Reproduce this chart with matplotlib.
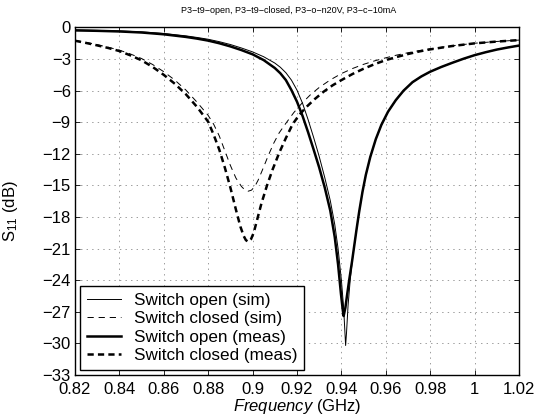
import matplotlib
matplotlib.use("Agg")
import matplotlib.pyplot as plt

plt.rcParams["font.family"] = ["Liberation Sans", "DejaVu Sans"]
plt.rcParams["mathtext.fontset"] = "custom"
plt.rcParams["mathtext.rm"] = "Liberation Sans"
plt.rcParams["mathtext.it"] = "Liberation Sans:italic"
plt.rcParams["lines.scale_dashes"] = False

# ---- data ----
f_open_sim = [0.82, 0.83, 0.84, 0.85, 0.86, 0.87, 0.875, 0.88, 0.885, 0.89, 0.895, 0.90,
              0.905, 0.91, 0.9125, 0.915, 0.9175, 0.92, 0.9225, 0.925, 0.9275, 0.93,
              0.9325, 0.935, 0.937, 0.9385, 0.94, 0.941, 0.9415, 0.9419, 0.9423, 0.943,
              0.944, 0.9452, 0.9468, 0.948, 0.9495, 0.951, 0.953, 0.9555, 0.958, 0.961,
              0.9645, 0.968, 0.972, 0.976, 0.98, 0.985, 0.99, 0.995, 1.0, 1.005, 1.01,
              1.015, 1.02]
s11_open_sim = [-0.24, -0.28, -0.33, -0.42, -0.57, -0.8, -0.95, -1.12, -1.35, -1.62, -1.95, -2.32,
                -2.78, -3.38, -3.78, -4.3, -5.0, -5.95, -7.2, -8.75, -10.45, -12.25,
                -14.25, -16.45, -18.7, -21.0, -24.0, -26.6, -28.6, -30.2, -29.0, -26.4,
                -23.9, -21.6, -19.2, -17.5, -15.6, -14.0, -12.3, -10.6, -9.25, -8.0,
                -6.9, -6.0, -5.2, -4.65, -4.2, -3.75, -3.35, -2.97, -2.63, -2.35, -2.1,
                -1.9, -1.72]

f_open_meas = [0.82, 0.83, 0.84, 0.85, 0.86, 0.87, 0.875, 0.88, 0.885, 0.89, 0.895, 0.90,
               0.905, 0.91, 0.9125, 0.915, 0.9175, 0.92, 0.9225, 0.925, 0.9275, 0.93,
               0.9325, 0.935, 0.937, 0.9385, 0.9398, 0.9406, 0.941, 0.9418, 0.9425, 0.9435,
               0.9448, 0.9458, 0.9468, 0.948, 0.9495, 0.951, 0.953, 0.9555, 0.958, 0.961,
               0.9645, 0.968, 0.972, 0.976, 0.98, 0.985, 0.99, 0.995, 1.0, 1.005, 1.01,
               1.015, 1.02]
s11_open_meas = [-0.28, -0.32, -0.38, -0.48, -0.65, -0.9, -1.06, -1.25, -1.5, -1.8, -2.15, -2.55,
                 -3.1, -3.85, -4.35, -5.0, -5.95, -7.05, -8.4, -9.95, -11.6, -13.3,
                 -15.2, -17.4, -19.9, -22.5, -25.3, -26.8, -27.4, -26.6, -25.5, -24.0,
                 -22.2, -20.7, -19.2, -17.5, -15.6, -14.0, -12.3, -10.6, -9.25, -8.0,
                 -6.9, -6.0, -5.2, -4.65, -4.2, -3.75, -3.35, -2.97, -2.63, -2.35, -2.1,
                 -1.9, -1.72]

f_closed_sim = [0.82, 0.825, 0.83, 0.835, 0.84, 0.845, 0.85, 0.855, 0.86, 0.865, 0.87, 0.875,
                0.88, 0.8825, 0.885, 0.8875, 0.89, 0.8925, 0.895, 0.8965, 0.898, 0.8995,
                0.901, 0.9025, 0.9045, 0.907, 0.9095, 0.912, 0.915, 0.9185, 0.922, 0.926,
                0.93, 0.935, 0.94, 0.945, 0.95, 0.955, 0.96, 0.965, 0.97, 0.975, 0.98,
                0.99, 1.0, 1.01, 1.02]
s11_closed_sim = [-1.22, -1.42, -1.63, -1.88, -2.15, -2.52, -2.95, -3.52, -4.2, -5.0, -5.95, -7.1,
                  -8.35, -9.2, -10.3, -11.7, -13.1, -14.3, -15.1, -15.42, -15.55, -15.45,
                  -15.1, -14.5, -13.5, -12.2, -11.0, -10.0, -9.1, -8.1, -7.25, -6.4,
                  -5.7, -4.98, -4.38, -3.9, -3.5, -3.17, -2.88, -2.62, -2.4, -2.2, -2.03,
                  -1.74, -1.5, -1.33, -1.2]

f_closed_meas = [0.82, 0.825, 0.83, 0.835, 0.84, 0.845, 0.85, 0.855, 0.86, 0.865, 0.87, 0.875,
                 0.88, 0.8825, 0.885, 0.8875, 0.89, 0.8925, 0.8945, 0.896, 0.897, 0.8981,
                 0.8993, 0.9005, 0.902, 0.904, 0.9065, 0.909, 0.912, 0.915, 0.918, 0.921,
                 0.9245, 0.928, 0.932, 0.936, 0.94, 0.945, 0.95, 0.955, 0.96, 0.965, 0.97,
                 0.975, 0.98, 0.99, 1.0, 1.01, 1.02]
s11_closed_meas = [-1.26, -1.47, -1.7, -1.95, -2.24, -2.65, -3.12, -3.75, -4.5, -5.35, -6.35, -7.55,
                   -8.95, -10.2, -11.6, -13.3, -15.2, -17.3, -18.9, -19.8, -20.2, -20.35,
                   -20.1, -19.5, -18.3, -16.7, -15.0, -13.5, -11.9, -10.5, -9.2, -8.3,
                   -7.5, -6.8, -6.1, -5.5, -5.0, -4.42, -3.92, -3.48, -3.1, -2.8, -2.52,
                   -2.28, -2.08, -1.76, -1.51, -1.34, -1.2]

labels = ["Switch open (sim)", "Switch closed (sim)", "Switch open (meas)", "Switch closed (meas)"]
xticks = [0.82, 0.84, 0.86, 0.88, 0.90, 0.92, 0.94, 0.96, 0.98, 1.00, 1.02]
xticklabels = ["0.82", "0.84", "0.86", "0.88", "0.9", "0.92", "0.94", "0.96", "0.98", "1", "1.02"]
yticks = [0, -3, -6, -9, -12, -15, -18, -21, -24, -27, -30, -33]
title = "P3\u2212t9\u2212open, P3\u2212t9\u2212closed, P3\u2212o\u2212n20V, P3\u2212c\u221210mA"

# ---- figure ----
fig = plt.figure(figsize=(5.39, 4.16), dpi=100)
ax = fig.add_axes([0.139, 0.0986, 0.824, 0.8354])

ax.plot(f_open_sim, s11_open_sim, color="k", linewidth=0.7, label=labels[0])
ax.plot(f_closed_sim, s11_closed_sim, color="k", linewidth=0.7, linestyle=(0, (4.5, 3.5)),
        label=labels[1])
ax.plot(f_open_meas, s11_open_meas, color="k", linewidth=1.8, label=labels[2])
ax.plot(f_closed_meas, s11_closed_meas, color="k", linewidth=1.8, linestyle=(0, (4.5, 3.0)),
        label=labels[3])

ax.set_xlim(0.82, 1.02)
ax.set_ylim(-33, 0)
ax.set_xticks(xticks)
ax.set_xticklabels(xticklabels)
ax.set_yticks(yticks)
ax.tick_params(direction="in", top=True, right=True, length=3.5, width=0.6,
               labelsize=12, pad=3)
ax.tick_params(axis="x", pad=5)
ax.grid(True, color="0.55", linestyle=(0, (1, 3)), linewidth=0.6)
for sp in ax.spines.values():
    sp.set_linewidth(1.0)

ax.set_xlabel(r"$\it{Frequency}$ (GHz)", fontsize=12, labelpad=0)
ax.set_ylabel(r"S$_{11}$ (dB)", fontsize=12)
ax.yaxis.set_label_coords(-0.124, 0.47)

fig.text(0.535, 0.974, title, ha="center", va="center", fontsize=6.5)

leg = ax.legend(loc="lower left", fontsize=12.3, frameon=True, fancybox=False,
                framealpha=1, edgecolor="k", handlelength=2.0, handletextpad=0.75,
                labelspacing=0.2, borderaxespad=0.3, borderpad=0.4)
leg.get_frame().set_linewidth(1.0)

fig.savefig("out.png", dpi=100)
